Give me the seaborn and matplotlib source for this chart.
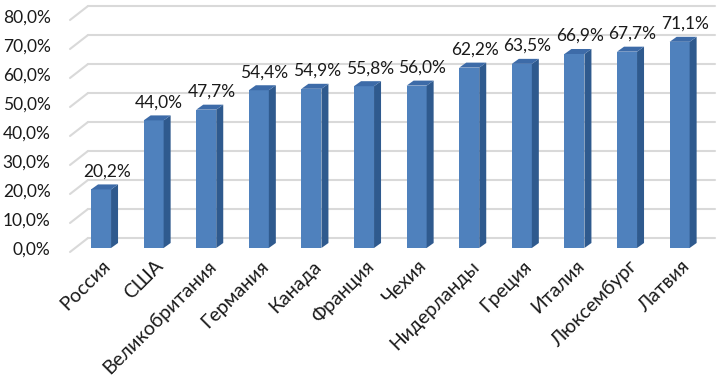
import matplotlib
matplotlib.use("Agg")
import pandas as pd
import seaborn as sns
import matplotlib.pyplot as plt
import matplotlib.transforms as mtransforms
from matplotlib.patches import Polygon

# data
countries = ["Россия", "США", "Великобритания", "Германия", "Канада", "Франция",
             "Чехия", "Нидерланды", "Греция", "Италия", "Люксембург", "Латвия"]
shares = [20.2, 44.0, 47.7, 54.4, 54.9, 55.8, 56.0, 62.2, 63.5, 66.9, 67.7, 71.1]
yticks = [0, 10, 20, 30, 40, 50, 60, 70, 80]

sns.set_style("white")
plt.rcParams['font.family'] = ['Lato', 'DejaVu Sans']
fs = 12.5

df = pd.DataFrame({"country": countries, "share": shares})

fig = plt.figure(figsize=(7.24, 3.83), dpi=100)
ax = fig.add_axes([0.0967, 0.3525, 0.866, 0.6057])
sns.barplot(data=df, x="country", y="share", color="#4F81BD", saturation=1,
            width=0.38, linewidth=0, ax=ax, zorder=3)
ax.set_xlim(-0.59, 11.33)
ax.set_ylim(0, 80)

# pixel sizes -> data units
px_x = 627 / (11.33 + 0.59)
px_y = 232 / 80

# 3d-ish gridlines: short diagonal from the front plane to the back wall
xmin, xmax = ax.get_xlim()
for v in yticks:
    ax.plot([xmin, xmin + 18 / px_x], [v - 4 / px_y, v + 10 / px_y],
            color="#D9D9D9", lw=1.5, zorder=1, clip_on=False)
    ax.plot([xmin + 18 / px_x, xmax + 18 / px_x], [v + 10 / px_y, v + 10 / px_y],
            color="#D9D9D9", lw=1.5, zorder=1, clip_on=False)

# side and top faces of the bars
dx = 7 / px_x
dy = 5 / px_y
for p in list(ax.patches):
    x0, w, h = p.get_x(), p.get_width(), p.get_height()
    side = [(x0 + w, 0), (x0 + w + dx, dy), (x0 + w + dx, h + dy), (x0 + w, h)]
    top = [(x0, h), (x0 + dx, h + dy), (x0 + w + dx, h + dy), (x0 + w, h)]
    ax.add_patch(Polygon(side, closed=True, facecolor="#2F5A8E", edgecolor="none", zorder=3))
    ax.add_patch(Polygon(top, closed=True, facecolor="#3D6BA8", edgecolor="none", zorder=3))

# value labels
for i, v in enumerate(shares):
    ax.annotate(f"{v:.1f}%".replace(".", ","), (i, v), xytext=(4, 13),
                textcoords="offset points", ha="center", va="center",
                fontsize=fs, color="#1A1A1A", annotation_clip=False)

ax.set_yticks(yticks)
ax.set_yticklabels([f"{t:.1f}%".replace(".", ",") for t in yticks], fontsize=fs, color="#1A1A1A")
ax.tick_params(axis="y", length=0, pad=14)
ax.tick_params(axis="x", length=0, pad=11)
shift = mtransforms.ScaledTranslation(5 / 72, 0, fig.dpi_scale_trans)
for lab in ax.get_xticklabels():
    lab.set_rotation(45)
    lab.set_ha("right")
    lab.set_va("center")
    lab.set_rotation_mode("anchor")
    lab.set_fontsize(14)
    lab.set_color("#1A1A1A")
    lab.set_transform(lab.get_transform() + shift)
ax.set_xlabel("")
ax.set_ylabel("")
for s in ax.spines.values():
    s.set_visible(False)

fig.savefig("out.png", dpi=100)
